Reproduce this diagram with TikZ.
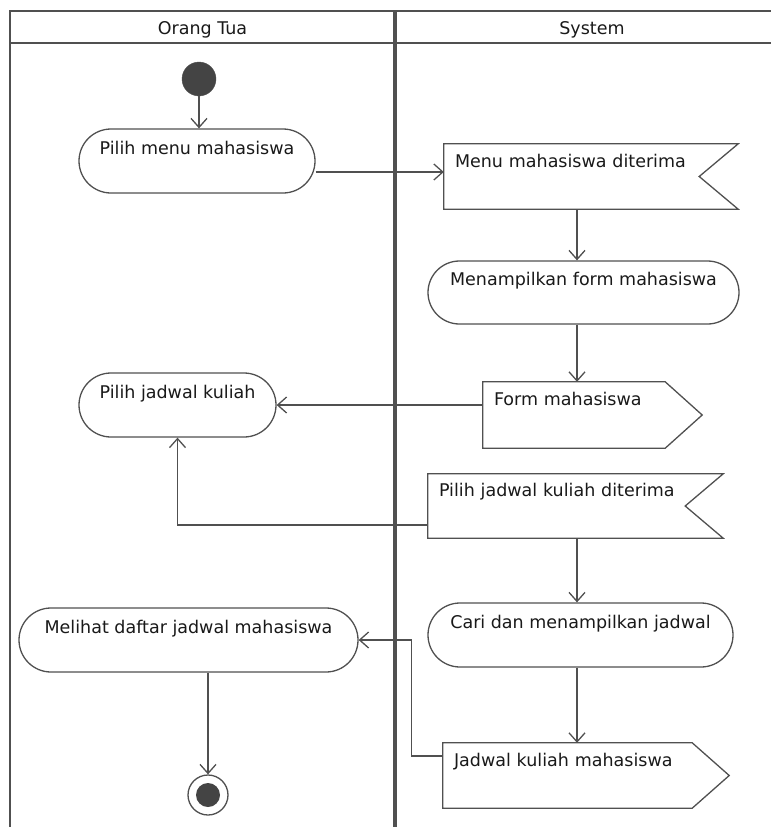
\documentclass[tikz,border=0pt]{standalone}
\usepackage{fontspec}
\setmainfont{DejaVu Sans}
\usetikzlibrary{arrows.meta,shapes.misc}
\definecolor{linegray}{RGB}{80,80,80}
\definecolor{dotgray}{RGB}{68,68,68}
\definecolor{txt}{RGB}{25,25,25}

\tikzset{
	lane/.style={draw=linegray, line width=2.5pt},
	divider/.style={draw=linegray, line width=4.5pt},
	lbl/.style={text=txt, font=\fontsize{17.5}{20}\selectfont},
	act/.style={lbl, rounded rectangle, draw=linegray, line width=1.3pt, fill=white, inner sep=0pt, text height=13pt, text depth=27pt},
	sig/.style={lbl, rectangle, inner xsep=11pt, inner ysep=0pt, align=left, text height=13pt, text depth=32pt},
	shapeline/.style={draw=linegray, line width=1.3pt},
	flow/.style={draw=linegray, line width=1.3pt, -{Straight Barb[length=9pt,width=16pt]}}
}

\begin{document}
\begin{tikzpicture}[x=1pt,y=-1pt]
	\useasboundingbox (0,0) rectangle (771,827);
	\draw[lane] (10,827) -- (10,11) -- (771,11);
	\draw[lane] (10,43) -- (771,43);
	\draw[divider] (395,11) -- (395,827);
	\node[lbl] (ortu) at (202.5,30) {Orang Tua};
	\node[lbl] (sys) at (592,30) {System};

	\node[circle, fill=dotgray, draw=linegray, minimum size=34pt, inner sep=0pt] (start) at (199,79) {};
	\node[act, minimum width=236pt, minimum height=64pt] (pm) at (197,161) {Pilih menu mahasiswa};
	\node[sig, text width=272pt, minimum height=65pt] (md) at (591,176.5) {Menu mahasiswa diterima};
	\node[act, minimum width=311pt, minimum height=63pt] (mf) at (583.5,292.5) {Menampilkan form mahasiswa};
	\node[sig, text width=197pt, minimum height=66pt] (fm) at (592.5,415) {Form mahasiswa};
	\node[act, minimum width=197pt, minimum height=64pt] (pj) at (177.5,405) {Pilih jadwal kuliah};
	\node[sig, text width=273pt, minimum height=64pt] (pjd) at (575.5,506) {Pilih jadwal kuliah diterima};
	\node[act, minimum width=305pt, minimum height=64pt] (cari) at (580.5,635) {Cari dan menampilkan jadwal};
	\node[act, minimum width=339pt, minimum height=64pt] (mel) at (188.5,640) {Melihat daftar jadwal mahasiswa};
	\node[sig, text width=264pt, minimum height=65pt] (jk) at (586,775.5) {Jadwal kuliah mahasiswa};
	\node[circle, draw=linegray, line width=1.3pt, fill=white, minimum size=40pt, inner sep=0pt] (fin) at (208,795) {};
	\fill[dotgray] (fin.center) circle (12pt);

	\draw[shapeline] (md.north west) -- (md.north east) -- ([xshift=-39pt]md.east) -- (md.south east) -- (md.south west) -- cycle;
	\draw[shapeline] (fm.north west) -- ([xshift=-37pt]fm.north east) -- (fm.east) -- ([xshift=-37pt]fm.south east) -- (fm.south west) -- cycle;
	\draw[shapeline] (pjd.north west) -- (pjd.north east) -- ([xshift=-38pt]pjd.east) -- (pjd.south east) -- (pjd.south west) -- cycle;
	\draw[shapeline] (jk.north west) -- ([xshift=-37pt]jk.north east) -- (jk.east) -- ([xshift=-37pt]jk.south east) -- (jk.south west) -- cycle;

	\coordinate (col) at (577,0);
	\draw[flow] (start.south) -- (start.south |- pm.north);
	\draw[flow] ([yshift=-11pt]pm.east) -- ([yshift=-11pt]pm.east -| md.west);
	\draw[flow] (md.south -| col) -- (mf.north -| col);
	\draw[flow] (mf.south -| col) -- (fm.north -| col);
	\draw[flow] (fm.west |- pj.east) -- (pj.east);
	\draw[flow] ([yshift=-19pt]pjd.west) -| (pj.south);
	\draw[flow] (pjd.south -| col) -- (cari.north -| col);
	\draw[flow] (cari.south -| col) -- (jk.north -| col);
	\draw[flow] ([yshift=19.5pt]jk.west) -- ++(-31,0) |- (mel.east);
	\draw[flow] (mel.south -| fin) -- (fin.north);
\end{tikzpicture}
\end{document}
